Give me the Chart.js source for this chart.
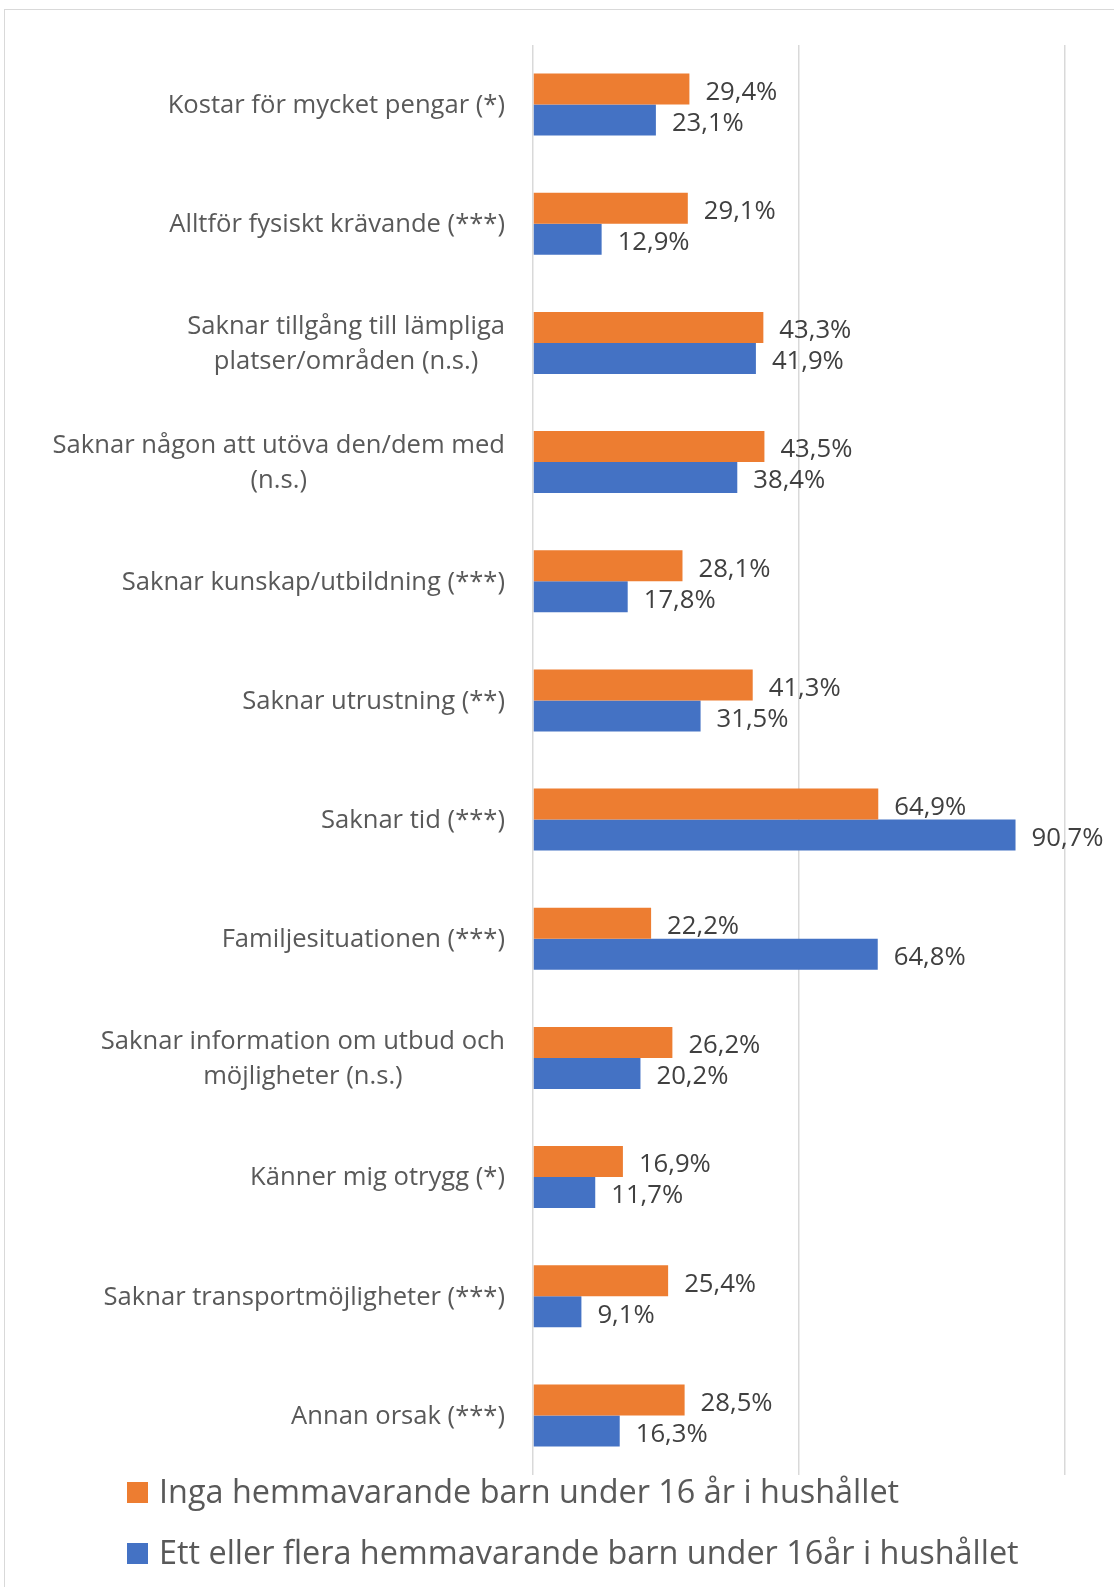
<!DOCTYPE html>
<html>
<head>
<meta charset="utf-8">
<script src="https://cdn.jsdelivr.net/npm/chart.js@4/dist/chart.umd.min.js"></script>
<style>
  html, body { margin: 0; padding: 0; background: #fff; overflow: hidden; }
  #frame { position: absolute; left: 4px; top: 9px; width: 1300px; height: 1700px; border: 1px solid #d9d9d9; }
  #chart { position: absolute; left: 0; top: 0; }
</style>
</head>
<body>
<div id="frame"></div>
<canvas id="chart" width="1114" height="1587"></canvas>
<script>
// ── data ──
const categories = [
  'Kostar för mycket pengar (*)',
  'Alltför fysiskt krävande (***)',
  ['Saknar tillgång till lämpliga', 'platser/områden (n.s.)'],
  ['Saknar någon att utöva den/dem med', '(n.s.)'],
  'Saknar kunskap/utbildning (***)',
  'Saknar utrustning (**)',
  'Saknar tid (***)',
  'Familjesituationen (***)',
  ['Saknar information om utbud och', 'möjligheter (n.s.)'],
  'Känner mig otrygg (*)',
  'Saknar transportmöjligheter (***)',
  'Annan orsak (***)'
];
const noChildren = [29.4, 29.1, 43.3, 43.5, 28.1, 41.3, 64.9, 22.2, 26.2, 16.9, 25.4, 28.5];
const withChildren = [23.1, 12.9, 41.9, 38.4, 17.8, 31.5, 90.7, 64.8, 20.2, 11.7, 9.1, 16.3];
const seriesNames = [
  'Inga hemmavarande barn under 16 år i hushållet',
  'Ett eller flera hemmavarande barn under 16år i hushållet'
];
const xTicks = [0, 50, 100];

const ORANGE = '#ED7D31', BLUE = '#4472C4';
const FONT = '"Open Sans", "DejaVu Sans", sans-serif';

// y labels, value labels and the legend are drawn by hand
const extras = {
  id: 'extras',
  afterDatasetsDraw(chart) {
    const ctx = chart.ctx;
    const y = chart.scales.y;
    ctx.save();

    // category labels, block right-aligned, lines centred
    ctx.font = '25.6px ' + FONT;
    ctx.fillStyle = '#595959';
    ctx.textAlign = 'center';
    ctx.textBaseline = 'middle';
    const right = chart.chartArea.left - 28, lh = 35.4;
    categories.forEach((c, i) => {
      const lines = Array.isArray(c) ? c : [c];
      const w = Math.max(...lines.map(l => ctx.measureText(l).width));
      const cy = y.getPixelForValue(i);
      lines.forEach((l, j) => {
        ctx.fillText(l, right - w / 2, cy + (j - (lines.length - 1) / 2) * lh + 1);
      });
    });

    // value labels
    ctx.font = '25.7px ' + FONT;
    ctx.fillStyle = '#404040';
    ctx.textAlign = 'left';
    chart.data.datasets.forEach((ds, di) => {
      chart.getDatasetMeta(di).data.forEach((el, i) => {
        const txt = ds.data[i].toFixed(1).replace('.', ',') + '%';
        ctx.fillText(txt, el.x + 16, el.y + 3.5);
      });
    });

    // legend
    ctx.font = '32.4px ' + FONT;
    const rows = [1492.5, 1553.5];
    chart.data.datasets.forEach((ds, di) => {
      ctx.fillStyle = ds.backgroundColor;
      ctx.fillRect(127, rows[di] - 10.5, 21, 21);
      ctx.fillStyle = '#595959';
      ctx.fillText(ds.label, 159, rows[di] + 1);
    });
    ctx.restore();
  }
};

new Chart(document.getElementById('chart'), {
  type: 'bar',
  data: {
    labels: categories,
    datasets: [
      { label: seriesNames[0], data: noChildren, backgroundColor: ORANGE },
      { label: seriesNames[1], data: withChildren, backgroundColor: BLUE }
    ]
  },
  options: {
    indexAxis: 'y',
    responsive: false,
    animation: false,
    events: [],
    layout: { padding: { top: 45, right: 49, bottom: 112, left: 0 } },
    datasets: { bar: { categoryPercentage: 0.52, barPercentage: 1.0 } },
    plugins: { legend: { display: false }, tooltip: { enabled: false } },
    scales: {
      x: {
        min: xTicks[0], max: xTicks[xTicks.length - 1],
        afterBuildTicks: s => { s.ticks = xTicks.map(v => ({ value: v })); },
        ticks: { display: false },
        grid: { color: '#d9d9d9', lineWidth: 1.5, drawTicks: false },
        border: { display: false },
        afterFit: s => { s.height = 0; }
      },
      y: {
        ticks: { display: false },
        grid: { display: false },
        border: { display: false },
        afterFit: s => { s.width = 533; }
      }
    }
  },
  plugins: [extras]
});
</script>
</body>
</html>
